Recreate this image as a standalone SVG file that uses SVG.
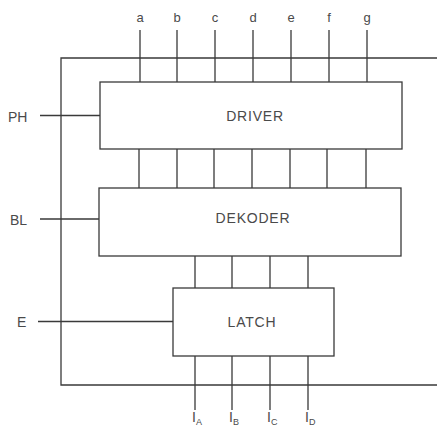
<svg xmlns="http://www.w3.org/2000/svg" width="437" height="430" viewBox="0 0 437 430">
<style>
.ln{stroke:#3a3a3a;stroke-width:1.3;fill:none}
.box{stroke:#3a3a3a;stroke-width:1.3;fill:#fff}
.t{font-family:"Liberation Sans",Arial,sans-serif;fill:#4a4a4a}
.big{font-size:14px;letter-spacing:0.8px}
.pin{font-size:13px}
.side{font-size:14px}
.sub{font-size:9px}
</style>
<rect width="437" height="430" fill="#fff"/>
<g id="connectors">
<path class="ln" d="M437,58 H61 V385 H437"/>
<path class="ln" d="M140,30 V82 M177,30 V82 M215,30 V82 M253,30 V82 M291,30 V82 M329,30 V82 M367,30 V82"/>
<path class="ln" d="M139,149 V188 M177,149 V188 M214,149 V188 M252,149 V188 M290,149 V188 M327,149 V188 M366,149 V188"/>
<path class="ln" d="M195,256 V288 M232,256 V288 M270,256 V288 M308,256 V288"/>
<path class="ln" d="M195,356 V410 M232,356 V410 M270,356 V410 M308,356 V410"/>
<path class="ln" d="M40,115.5 H100 M40,219 H99 M38,321.5 H173"/>
</g>
<g id="driver">
<rect class="box" x="100" y="82" width="302" height="67"/>
<text class="t big" x="255" y="121" text-anchor="middle">DRIVER</text>
</g>
<g id="dekoder">
<rect class="box" x="99" y="188" width="302" height="68"/>
<text class="t big" x="253" y="223" text-anchor="middle">DEKODER</text>
</g>
<g id="latch">
<rect class="box" x="173" y="288" width="161" height="68"/>
<text class="t big" x="252" y="327" text-anchor="middle">LATCH</text>
</g>
<g id="labels">
<text class="t pin" x="140" y="22" text-anchor="middle">a</text>
<text class="t pin" x="177" y="22" text-anchor="middle">b</text>
<text class="t pin" x="215" y="22" text-anchor="middle">c</text>
<text class="t pin" x="253" y="22" text-anchor="middle">d</text>
<text class="t pin" x="291" y="22" text-anchor="middle">e</text>
<text class="t pin" x="329" y="22" text-anchor="middle">f</text>
<text class="t pin" x="367" y="22" text-anchor="middle">g</text>
<text class="t side" x="8" y="122">PH</text>
<text class="t side" x="10" y="225">BL</text>
<text class="t side" x="17" y="327">E</text>
<text class="t side" x="192" y="422">I<tspan class="sub" dy="3">A</tspan></text>
<text class="t side" x="229" y="422">I<tspan class="sub" dy="3">B</tspan></text>
<text class="t side" x="267" y="422">I<tspan class="sub" dy="3">C</tspan></text>
<text class="t side" x="305" y="422">I<tspan class="sub" dy="3">D</tspan></text>
</g>
</svg>
